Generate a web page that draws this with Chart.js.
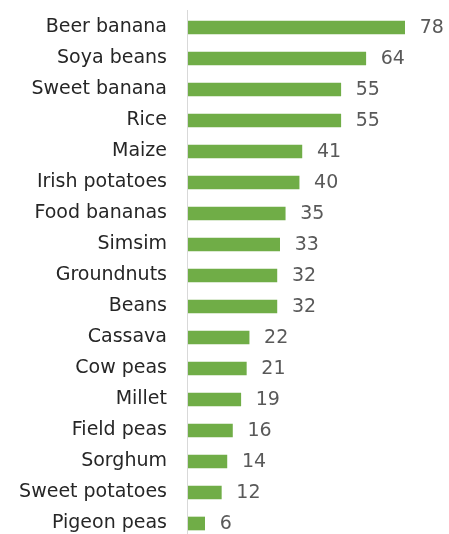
<!DOCTYPE html>
<html>
<head>
<meta charset="utf-8">
<script src="https://cdn.jsdelivr.net/npm/chart.js@4/dist/chart.umd.min.js"></script>
<style>
  html, body { margin: 0; padding: 0; background: #fff; overflow: hidden; }
  #wrap { width: 449px; height: 534px; overflow: hidden; }
</style>
</head>
<body>
<div id="wrap"><canvas id="myChart" width="449" height="545"></canvas></div>
<script>
// crop data
const crops = ['Beer banana', 'Soya beans', 'Sweet banana', 'Rice', 'Maize', 'Irish potatoes',
    'Food bananas', 'Simsim', 'Groundnuts', 'Beans', 'Cassava', 'Cow peas', 'Millet',
    'Field peas', 'Sorghum', 'Sweet potatoes', 'Pigeon peas'];
const counts = [78, 64, 55, 55, 41, 40, 35, 33, 32, 32, 22, 21, 19, 16, 14, 12, 6];

const fontName = 'DejaVu Sans';

// values next to the bars + axis line
const valueLabels = {
    id: 'valueLabels',
    afterDatasetsDraw(chart) {
        const c = chart.ctx;
        const meta = chart.getDatasetMeta(0);
        c.save();
        c.font = '19px "' + fontName + '"';
        c.fillStyle = '#595959';
        c.textAlign = 'left';
        c.textBaseline = 'middle';
        meta.data.forEach(function (bar, i) {
            c.fillText(counts[i], bar.x + 15, bar.y + 1);
        });
        // axis line
        const x0 = chart.scales.x.getPixelForValue(0);
        c.strokeStyle = '#d9d9d9';
        c.lineWidth = 1;
        c.beginPath();
        c.moveTo(Math.round(x0) - 0.5, 10);
        c.lineTo(Math.round(x0) - 0.5, 534);
        c.stroke();
        c.restore();
    }
};

const ctx = document.getElementById('myChart').getContext('2d');
const myChart = new Chart(ctx, {
    type: 'bar',
    data: {
        labels: crops,
        datasets: [{
            data: counts,
            backgroundColor: '#70ad47',
            borderWidth: 0,
            barThickness: 13
        }]
    },
    options: {
        indexAxis: 'y',
        responsive: false,
        animation: false,
        layout: {
            padding: { top: 12, bottom: 6, right: 11 }
        },
        plugins: {
            legend: { display: false },
            tooltip: { enabled: false }
        },
        scales: {
            x: {
                min: 0,
                max: 90,
                display: false
            },
            y: {
                grid: { display: false, drawTicks: false },
                border: { display: false },
                ticks: {
                    padding: 21,
                    color: '#262626',
                    font: { family: fontName, size: 19 }
                },
                afterFit: function (scale) {
                    scale.width = 188;
                    scale.paddingTop = 0;
                    scale.paddingBottom = 0;
                }
            }
        }
    },
    plugins: [valueLabels]
});
</script>
</body>
</html>
